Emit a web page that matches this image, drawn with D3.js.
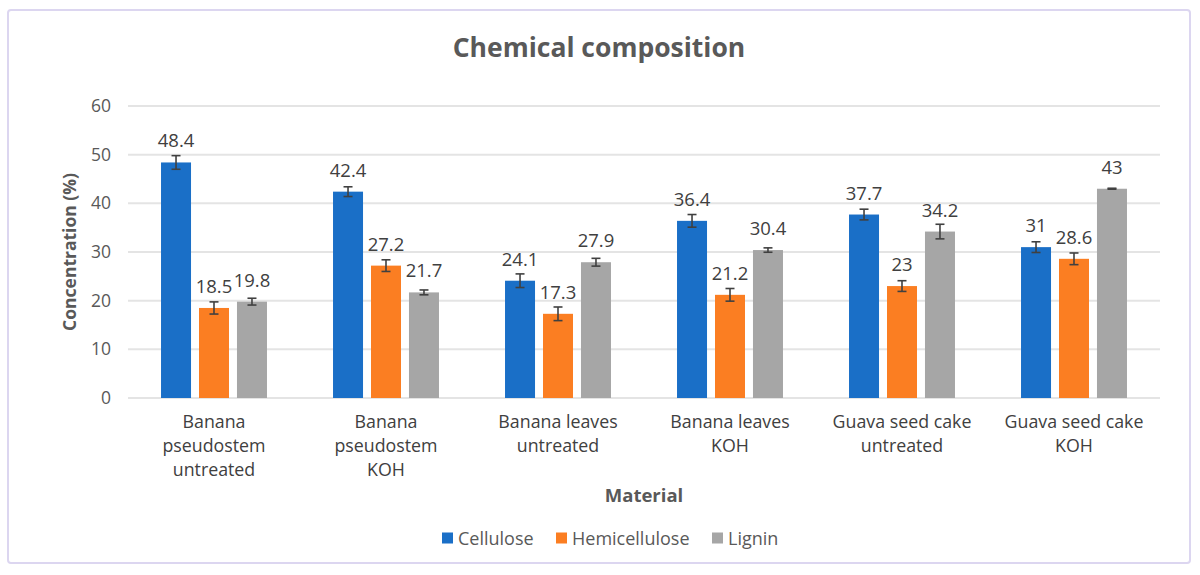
<!DOCTYPE html>
<html>
<head>
<meta charset="utf-8">
<script src="https://cdn.jsdelivr.net/npm/d3@7"></script>
<style>
  body { margin: 0; background: #fff; }
  svg { font-family: "Open Sans", sans-serif; }
</style>
</head>
<body>
<svg id="chart" width="1200" height="575"></svg>
<script>
// data
const categories = [
  "Banana pseudostem untreated",
  "Banana pseudostem KOH",
  "Banana leaves untreated",
  "Banana leaves KOH",
  "Guava seed cake untreated",
  "Guava seed cake KOH"
];
const categoryLines = [
  ["Banana", "pseudostem", "untreated"],
  ["Banana", "pseudostem", "KOH"],
  ["Banana leaves", "untreated"],
  ["Banana leaves", "KOH"],
  ["Guava seed cake", "untreated"],
  ["Guava seed cake", "KOH"]
];
const seriesNames = ["Cellulose", "Hemicellulose", "Lignin"];
const cellulose = [48.4, 42.4, 24.1, 36.4, 37.7, 31];
const hemicellulose = [18.5, 27.2, 17.3, 21.2, 23, 28.6];
const lignin = [19.8, 21.7, 27.9, 30.4, 34.2, 43];
const celluloseErr = [1.4, 1.0, 1.4, 1.3, 1.1, 1.1];
const hemicelluloseErr = [1.25, 1.2, 1.4, 1.3, 1.1, 1.2];
const ligninErr = [0.7, 0.5, 0.8, 0.45, 1.5, 0.1];
const yTicks = [0, 10, 20, 30, 40, 50, 60];
const colors = ["#1a6fc7", "#fb7e22", "#a6a6a6"];

const values = [cellulose, hemicellulose, lignin];
const errors = [celluloseErr, hemicelluloseErr, ligninErr];

const svg = d3.select("#chart");

// frame
svg.append("rect")
    .attr("x", 8).attr("y", 10)
    .attr("width", 1182).attr("height", 553)
    .attr("rx", 3)
    .attr("fill", "#fff")
    .attr("stroke", "#dcd6f0")
    .attr("stroke-width", 2);

const plotLeft = 128, plotRight = 1160, plotTop = 106, plotBottom = 398;

let x0 = d3.scaleBand()
    .domain(categories)
    .range([plotLeft, plotRight])
    .paddingInner(0.384)
    .paddingOuter(0.192);

let x1 = d3.scaleBand()
    .domain(seriesNames)
    .range([0, x0.bandwidth()])
    .paddingInner(0.21);

let y = d3.scaleLinear().domain([0, 60]).range([plotBottom, plotTop]);

// gridlines
svg.append("g").selectAll("line")
    .data(yTicks)
    .enter().append("line")
    .attr("x1", plotLeft).attr("x2", plotRight)
    .attr("y1", d => y(d)).attr("y2", d => y(d))
    .attr("stroke", "#e4e4e4")
    .attr("stroke-width", 2);

// y axis labels
let yAxis = d3.axisLeft(y).tickValues(yTicks).tickSize(0).tickPadding(0);
let yg = svg.append("g")
    .attr("transform", "translate(111,0)")
    .call(yAxis);
yg.select(".domain").remove();
yg.selectAll("text")
    .attr("fill", "#595959")
    .style("font-size", "17.5px")
    .style("font-family", "Open Sans, sans-serif");

// bars
let rows = categories.map((c, i) => ({
    cat: c,
    items: seriesNames.map((s, j) => ({ s: s, v: values[j][i], e: errors[j][i], color: colors[j] }))
}));

let groups = svg.append("g").selectAll("g")
    .data(rows)
    .enter().append("g")
    .attr("transform", d => "translate(" + x0(d.cat) + ",0)");

let items = groups.selectAll("g.item")
    .data(d => d.items)
    .enter().append("g")
    .attr("class", "item");

items.append("rect")
    .attr("x", d => x1(d.s))
    .attr("y", d => y(d.v))
    .attr("width", x1.bandwidth())
    .attr("height", d => y(0) - y(d.v))
    .attr("fill", d => d.color);

// error bars
let cx = d => x1(d.s) + x1.bandwidth() / 2;
items.append("line")
    .attr("x1", cx).attr("x2", cx)
    .attr("y1", d => y(d.v + d.e)).attr("y2", d => y(d.v - d.e))
    .attr("stroke", "#404040").attr("stroke-width", 1.6);
items.append("line")
    .attr("x1", d => cx(d) - 4.5).attr("x2", d => cx(d) + 4.5)
    .attr("y1", d => y(d.v + d.e)).attr("y2", d => y(d.v + d.e))
    .attr("stroke", "#404040").attr("stroke-width", 1.6);
items.append("line")
    .attr("x1", d => cx(d) - 4.5).attr("x2", d => cx(d) + 4.5)
    .attr("y1", d => y(d.v - d.e)).attr("y2", d => y(d.v - d.e))
    .attr("stroke", "#404040").attr("stroke-width", 1.6);

// value labels
items.append("text")
    .attr("x", cx)
    .attr("y", d => y(d.v) - 15)
    .attr("text-anchor", "middle")
    .attr("fill", "#404040")
    .style("font-size", "18.5px")
    .text(d => d.v);

// category labels
let catLabels = svg.append("g").selectAll("text")
    .data(categories)
    .enter().append("text")
    .attr("x", d => x0(d) + x0.bandwidth() / 2)
    .attr("y", 428)
    .attr("text-anchor", "middle")
    .attr("fill", "#404040")
    .style("font-size", "17.8px");
catLabels.selectAll("tspan")
    .data((d, i) => categoryLines[i])
    .enter().append("tspan")
    .attr("x", function() { return d3.select(this.parentNode).attr("x"); })
    .attr("dy", (d, i) => i == 0 ? 0 : 24)
    .text(d => d);

// title
svg.append("text")
    .attr("x", 599).attr("y", 57)
    .attr("text-anchor", "middle")
    .attr("fill", "#595959")
    .style("font-size", "26.5px")
    .style("font-weight", "bold")
    .text("Chemical composition");

// axis titles
svg.append("text")
    .attr("x", (plotLeft + plotRight) / 2).attr("y", 502)
    .attr("text-anchor", "middle")
    .attr("fill", "#595959")
    .style("font-size", "18.5px")
    .style("font-weight", "bold")
    .text("Material");

svg.append("text")
    .attr("transform", "translate(76,252) rotate(-90)")
    .attr("text-anchor", "middle")
    .attr("fill", "#595959")
    .style("font-size", "17.5px")
    .style("font-weight", "bold")
    .text("Concentration (%)");

// legend
const legendX = [442, 556, 712];
let legend = svg.append("g").selectAll("g")
    .data(seriesNames)
    .enter().append("g")
    .attr("transform", (d, i) => "translate(" + legendX[i] + ",538)");
legend.append("rect")
    .attr("x", 0).attr("y", -5.5)
    .attr("width", 11).attr("height", 11)
    .attr("fill", (d, i) => colors[i]);
legend.append("text")
    .attr("x", 16).attr("y", 6.5)
    .attr("fill", "#595959")
    .style("font-size", "18px")
    .text(d => d);
</script>
</body>
</html>
